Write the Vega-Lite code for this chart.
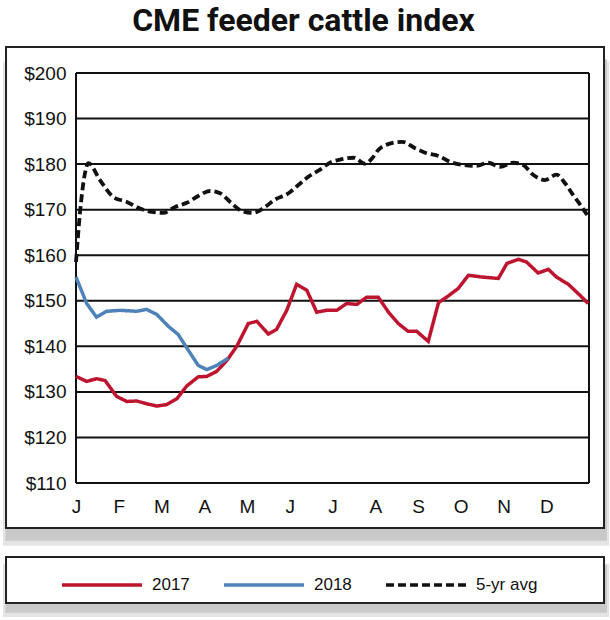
{
  "$schema": "https://vega.github.io/schema/vega-lite/v6.json",
  "width": 513,
  "height": 410,
  "autosize": {"type": "none"},
  "padding": {"left": 76, "top": 73, "right": 21, "bottom": 137},
  "background": "white",
  "title": {
    "text": "CME feeder cattle index",
    "font": "Roboto",
    "fontWeight": "bold",
    "fontSize": 32,
    "color": "#111111",
    "anchor": "middle",
    "dx": -29,
    "offset": 8
  },
  "datasets": {
    "shadows": [
      {"part": "chart-outer", "x1": -1.708, "x2": 12.47, "y1": 202.5, "y2": 96.2, "shade": "#e4e4e4"},
      {"part": "chart-inner", "x1": -1.65, "x2": 12.42, "y1": 203.0, "y2": 97.3, "shade": "#c9c9c9"},
      {"part": "legend-outer", "x1": -1.708, "x2": 12.47, "y1": 92.3, "y2": 80.6, "shade": "#e4e4e4"},
      {"part": "legend-inner", "x1": -1.65, "x2": 12.42, "y1": 92.0, "y2": 81.5, "shade": "#c9c9c9"}
    ],
    "frames": [
      {"part": "chart", "x1": -1.637, "x2": 12.351, "y1": 205.7, "y2": 100.13},
      {"part": "legend", "x1": -1.637, "x2": 12.351, "y1": 93.77, "y2": 83.67}
    ],
    "rules": [
      {"x1": 0, "x2": 12, "y1": 110, "y2": 110},
      {"x1": 0, "x2": 12, "y1": 120, "y2": 120},
      {"x1": 0, "x2": 12, "y1": 130, "y2": 130},
      {"x1": 0, "x2": 12, "y1": 140, "y2": 140},
      {"x1": 0, "x2": 12, "y1": 150, "y2": 150},
      {"x1": 0, "x2": 12, "y1": 160, "y2": 160},
      {"x1": 0, "x2": 12, "y1": 170, "y2": 170},
      {"x1": 0, "x2": 12, "y1": 180, "y2": 180},
      {"x1": 0, "x2": 12, "y1": 190, "y2": 190},
      {"x1": 0, "x2": 12, "y1": 200, "y2": 200},
      {"x1": 0, "x2": 0, "y1": 110, "y2": 200},
      {"x1": 12, "x2": 12, "y1": 110, "y2": 200}
    ],
    "series": [
      {"series": "2017", "m": 0, "v": 133.4},
      {"series": "2017", "m": 0.25, "v": 132.3},
      {"series": "2017", "m": 0.48, "v": 132.9},
      {"series": "2017", "m": 0.68, "v": 132.5},
      {"series": "2017", "m": 0.95, "v": 129.0},
      {"series": "2017", "m": 1.19, "v": 127.9},
      {"series": "2017", "m": 1.42, "v": 128.0},
      {"series": "2017", "m": 1.65, "v": 127.4},
      {"series": "2017", "m": 1.89, "v": 126.9},
      {"series": "2017", "m": 2.12, "v": 127.2},
      {"series": "2017", "m": 2.36, "v": 128.5},
      {"series": "2017", "m": 2.59, "v": 131.3},
      {"series": "2017", "m": 2.86, "v": 133.3},
      {"series": "2017", "m": 3.06, "v": 133.4},
      {"series": "2017", "m": 3.29, "v": 134.5},
      {"series": "2017", "m": 3.53, "v": 136.9},
      {"series": "2017", "m": 3.76, "v": 140.0},
      {"series": "2017", "m": 4.03, "v": 145.0},
      {"series": "2017", "m": 4.23, "v": 145.5},
      {"series": "2017", "m": 4.5, "v": 142.7},
      {"series": "2017", "m": 4.69, "v": 143.7},
      {"series": "2017", "m": 4.93, "v": 147.9},
      {"series": "2017", "m": 5.16, "v": 153.6},
      {"series": "2017", "m": 5.4, "v": 152.3},
      {"series": "2017", "m": 5.63, "v": 147.5},
      {"series": "2017", "m": 5.86, "v": 147.9},
      {"series": "2017", "m": 6.1, "v": 147.9},
      {"series": "2017", "m": 6.33, "v": 149.4},
      {"series": "2017", "m": 6.57, "v": 149.2},
      {"series": "2017", "m": 6.8, "v": 150.8},
      {"series": "2017", "m": 7.07, "v": 150.8},
      {"series": "2017", "m": 7.31, "v": 147.5},
      {"series": "2017", "m": 7.54, "v": 145.0},
      {"series": "2017", "m": 7.77, "v": 143.3},
      {"series": "2017", "m": 7.97, "v": 143.3},
      {"series": "2017", "m": 8.24, "v": 141.1},
      {"series": "2017", "m": 8.48, "v": 149.6},
      {"series": "2017", "m": 8.7, "v": 151.0},
      {"series": "2017", "m": 8.94, "v": 152.7},
      {"series": "2017", "m": 9.18, "v": 155.6},
      {"series": "2017", "m": 9.5, "v": 155.2},
      {"series": "2017", "m": 9.88, "v": 154.9},
      {"series": "2017", "m": 10.08, "v": 158.2},
      {"series": "2017", "m": 10.35, "v": 159.1},
      {"series": "2017", "m": 10.54, "v": 158.5},
      {"series": "2017", "m": 10.81, "v": 156.1},
      {"series": "2017", "m": 11.05, "v": 156.9},
      {"series": "2017", "m": 11.24, "v": 155.2},
      {"series": "2017", "m": 11.52, "v": 153.6},
      {"series": "2017", "m": 11.79, "v": 151.2},
      {"series": "2017", "m": 11.98, "v": 149.4},
      {"series": "2018", "m": 0, "v": 155.2},
      {"series": "2018", "m": 0.25, "v": 149.4},
      {"series": "2018", "m": 0.48, "v": 146.4},
      {"series": "2018", "m": 0.72, "v": 147.7},
      {"series": "2018", "m": 1.03, "v": 147.9},
      {"series": "2018", "m": 1.42, "v": 147.7},
      {"series": "2018", "m": 1.65, "v": 148.1},
      {"series": "2018", "m": 1.89, "v": 147.0},
      {"series": "2018", "m": 2.16, "v": 144.4},
      {"series": "2018", "m": 2.39, "v": 142.6},
      {"series": "2018", "m": 2.63, "v": 139.1},
      {"series": "2018", "m": 2.86, "v": 135.8},
      {"series": "2018", "m": 3.06, "v": 134.9},
      {"series": "2018", "m": 3.29, "v": 135.8},
      {"series": "2018", "m": 3.56, "v": 137.4},
      {"series": "5-yr avg", "m": 0, "v": 158.5},
      {"series": "5-yr avg", "m": 0.09, "v": 169.0},
      {"series": "5-yr avg", "m": 0.2, "v": 177.5},
      {"series": "5-yr avg", "m": 0.29, "v": 180.2},
      {"series": "5-yr avg", "m": 0.56, "v": 176.5},
      {"series": "5-yr avg", "m": 0.87, "v": 172.8},
      {"series": "5-yr avg", "m": 1.19, "v": 171.7},
      {"series": "5-yr avg", "m": 1.46, "v": 170.4},
      {"series": "5-yr avg", "m": 1.77, "v": 169.5},
      {"series": "5-yr avg", "m": 2.04, "v": 169.3},
      {"series": "5-yr avg", "m": 2.32, "v": 170.6},
      {"series": "5-yr avg", "m": 2.59, "v": 171.5},
      {"series": "5-yr avg", "m": 2.86, "v": 173.0},
      {"series": "5-yr avg", "m": 3.13, "v": 174.1},
      {"series": "5-yr avg", "m": 3.37, "v": 173.6},
      {"series": "5-yr avg", "m": 3.64, "v": 171.4},
      {"series": "5-yr avg", "m": 3.88, "v": 169.7},
      {"series": "5-yr avg", "m": 4.15, "v": 169.3},
      {"series": "5-yr avg", "m": 4.38, "v": 170.3},
      {"series": "5-yr avg", "m": 4.65, "v": 172.2},
      {"series": "5-yr avg", "m": 4.97, "v": 173.6},
      {"series": "5-yr avg", "m": 5.2, "v": 175.4},
      {"series": "5-yr avg", "m": 5.43, "v": 177.2},
      {"series": "5-yr avg", "m": 5.71, "v": 178.8},
      {"series": "5-yr avg", "m": 5.94, "v": 180.3},
      {"series": "5-yr avg", "m": 6.18, "v": 181.0},
      {"series": "5-yr avg", "m": 6.5, "v": 181.4},
      {"series": "5-yr avg", "m": 6.76, "v": 180.1},
      {"series": "5-yr avg", "m": 6.92, "v": 181.2},
      {"series": "5-yr avg", "m": 7.07, "v": 183.1},
      {"series": "5-yr avg", "m": 7.34, "v": 184.5},
      {"series": "5-yr avg", "m": 7.63, "v": 184.9},
      {"series": "5-yr avg", "m": 7.93, "v": 183.5},
      {"series": "5-yr avg", "m": 8.2, "v": 182.4},
      {"series": "5-yr avg", "m": 8.48, "v": 181.8},
      {"series": "5-yr avg", "m": 8.75, "v": 180.5},
      {"series": "5-yr avg", "m": 9.06, "v": 179.8},
      {"series": "5-yr avg", "m": 9.37, "v": 179.6},
      {"series": "5-yr avg", "m": 9.64, "v": 180.3},
      {"series": "5-yr avg", "m": 9.92, "v": 179.4},
      {"series": "5-yr avg", "m": 10.23, "v": 180.3},
      {"series": "5-yr avg", "m": 10.46, "v": 179.8},
      {"series": "5-yr avg", "m": 10.7, "v": 177.6},
      {"series": "5-yr avg", "m": 10.97, "v": 176.5},
      {"series": "5-yr avg", "m": 11.24, "v": 177.7},
      {"series": "5-yr avg", "m": 11.44, "v": 175.8},
      {"series": "5-yr avg", "m": 11.63, "v": 173.2},
      {"series": "5-yr avg", "m": 11.83, "v": 170.6},
      {"series": "5-yr avg", "m": 12, "v": 168.2}
    ]
  },
  "layer": [
    {
      "data": {"name": "shadows"},
      "mark": {"type": "rect", "clip": false},
      "encoding": {
        "x": {"field": "x1", "type": "quantitative"},
        "x2": {"field": "x2"},
        "y": {"field": "y1", "type": "quantitative"},
        "y2": {"field": "y2"},
        "fill": {"field": "shade", "type": "nominal", "scale": null, "legend": null}
      }
    },
    {
      "data": {"name": "frames"},
      "mark": {"type": "rect", "fill": "white", "stroke": "#222222", "strokeWidth": 2, "clip": false},
      "encoding": {
        "x": {"field": "x1", "type": "quantitative"},
        "x2": {"field": "x2"},
        "y": {"field": "y1", "type": "quantitative"},
        "y2": {"field": "y2"}
      }
    },
    {
      "data": {"name": "rules"},
      "mark": {"type": "rule", "stroke": "#111111", "strokeWidth": 2, "clip": false},
      "encoding": {
        "x": {"field": "x1", "type": "quantitative"},
        "x2": {"field": "x2"},
        "y": {"field": "y1", "type": "quantitative"},
        "y2": {"field": "y2"}
      }
    },
    {
      "data": {"name": "series"},
      "transform": [{"filter": "datum.series !== '5-yr avg'"}],
      "mark": {"type": "line", "strokeWidth": 3.5, "clip": false},
      "encoding": {
        "x": {"field": "m", "type": "quantitative"},
        "y": {"field": "v", "type": "quantitative"},
        "color": {"field": "series", "type": "nominal"},
        "strokeDash": {"field": "series", "type": "nominal"}
      }
    },
    {
      "data": {"name": "series"},
      "transform": [{"filter": "datum.series === '5-yr avg'"}],
      "mark": {"type": "line", "strokeWidth": 3.8, "interpolate": "monotone", "clip": false},
      "encoding": {
        "x": {"field": "m", "type": "quantitative"},
        "y": {"field": "v", "type": "quantitative"},
        "color": {"field": "series", "type": "nominal"},
        "strokeDash": {"field": "series", "type": "nominal"}
      }
    }
  ],
  "resolve": {"scale": {"x": "shared", "y": "shared"}},
  "encoding": {
    "x": {
      "field": "m",
      "type": "quantitative",
      "scale": {"domain": [0, 12], "nice": false, "zero": false},
      "axis": {
        "title": null,
        "values": [0, 1, 2, 3, 4, 5, 6, 7, 8, 9, 10, 11],
        "labelExpr": "['J','F','M','A','M','J','J','A','S','O','N','D'][datum.value]",
        "grid": false,
        "domain": false,
        "ticks": false,
        "labelFlush": false,
        "labelOverlap": false,
        "labelBound": false,
        "labelPadding": 14,
        "labelFont": "Liberation Sans",
        "labelFontSize": 19,
        "labelColor": "#111111",
        "zindex": 1
      }
    },
    "y": {
      "field": "v",
      "type": "quantitative",
      "scale": {"domain": [110, 200], "nice": false, "zero": false},
      "axis": {
        "title": null,
        "values": [110, 120, 130, 140, 150, 160, 170, 180, 190, 200],
        "labelExpr": "'$' + datum.value",
        "grid": false,
        "domain": false,
        "ticks": false,
        "labelPadding": 10,
        "labelFont": "Liberation Sans",
        "labelFontSize": 19,
        "labelColor": "#111111",
        "zindex": 1
      }
    },
    "color": {
      "field": "series",
      "type": "nominal",
      "scale": {"domain": ["2017", "2018", "5-yr avg"], "range": ["#BD1530", "#4F82B8", "#111111"]},
      "legend": {"title": null}
    },
    "strokeDash": {
      "field": "series",
      "type": "nominal",
      "scale": {"domain": ["2017", "2018", "5-yr avg"], "range": [[1, 0], [1, 0], [8, 4]]},
      "legend": {"title": null}
    }
  },
  "config": {
    "view": {"stroke": null},
    "legend": {
      "orient": "none",
      "legendX": -16,
      "legendY": 470,
      "direction": "horizontal",
      "symbolType": "stroke",
      "symbolSize": 6400,
      "symbolStrokeWidth": 3.5,
      "labelFont": "Liberation Sans",
      "labelFontSize": 17,
      "labelColor": "#111111",
      "labelOffset": 8,
      "columnPadding": 27,
      "padding": 0,
      "zindex": 1
    }
  }
}
